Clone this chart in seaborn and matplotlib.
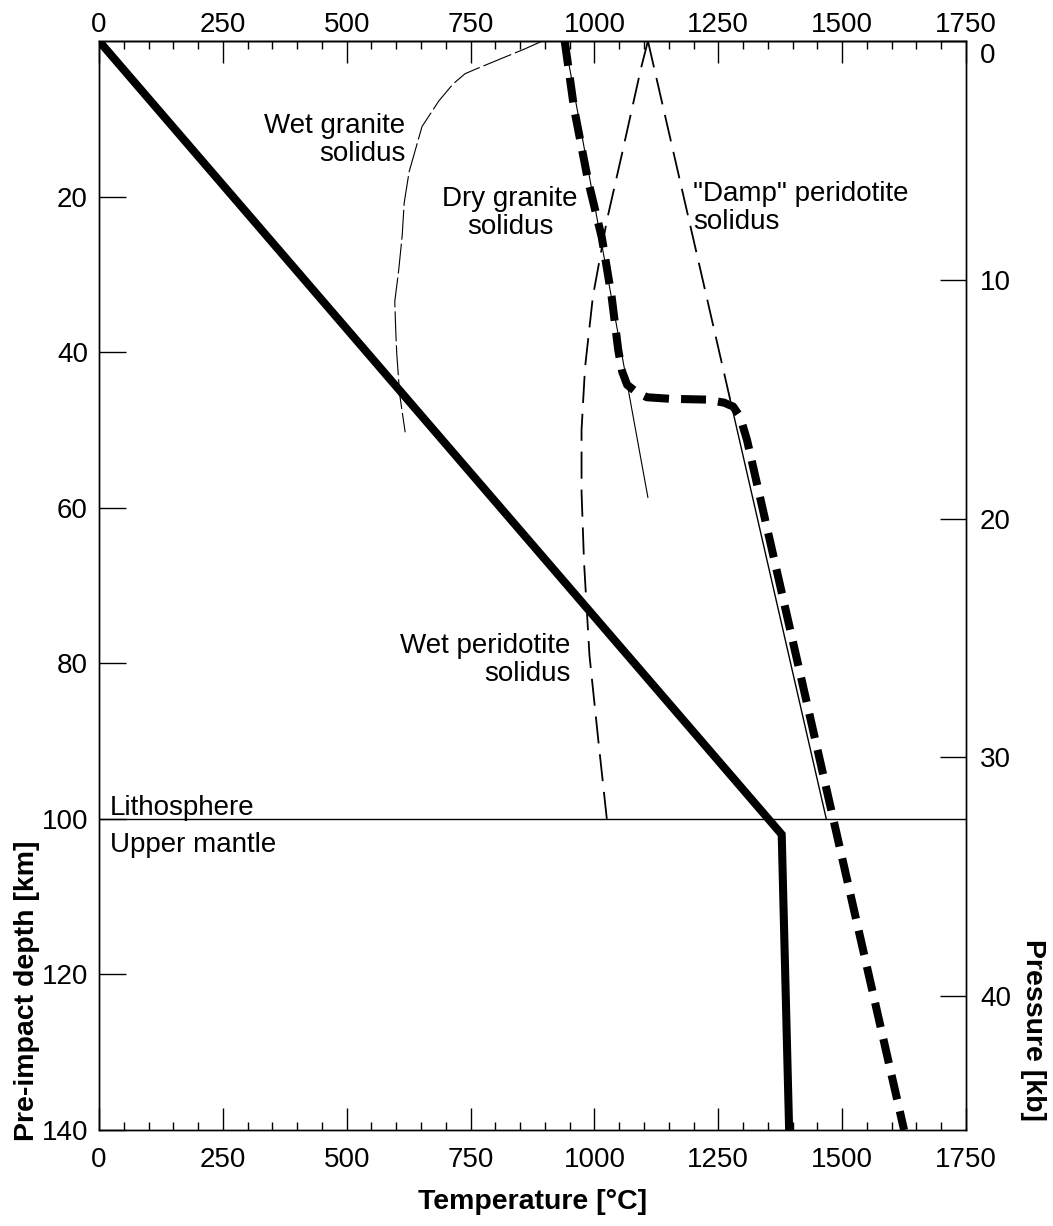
import matplotlib
matplotlib.use("Agg")
import matplotlib.pyplot as plt
from matplotlib.ticker import MultipleLocator
from matplotlib.transforms import ScaledTranslation
import seaborn as sns

# Geotherm of the pre-impact target (temperature in °C, depth in km)
geotherm_T = [0, 1378, 1393]
geotherm_z = [0, 102, 140]

# Composite solidus of the layered target (granite crust over peridotite mantle)
target_solidus_T = [940, 959, 987, 1015, 1035, 1048, 1056, 1066, 1086, 1106,
                    1153, 1227, 1262, 1280, 1294, 1308, 1625]
target_solidus_z = [0, 8.7, 17.9, 25.3, 33, 39.7, 42.5, 44.2, 45.2, 45.8,
                    46.0, 46.1, 46.5, 47.0, 48.3, 51.3, 140]

# Individual solidus curves
wet_granite_T = [895, 860, 761, 739, 715, 686, 652, 626, 616, 612, 605, 597,
                 599, 601, 607, 618]
wet_granite_z = [0, 1.0, 3.6, 4.2, 5.5, 7.7, 11, 16.8, 20.8, 25, 29.4, 33.5,
                 37.3, 40.2, 45.5, 50.3]

dry_granite_T = [940, 1108]
dry_granite_z = [0, 58.7]

wet_peridotite_T = [1108, 1094, 1056, 1025, 997, 981, 974, 974, 979, 990, 1008, 1025]
wet_peridotite_z = [0, 3.5, 14.4, 23.1, 32.8, 42, 50, 58, 67, 79, 90, 100]

damp_peridotite_T = [1108, 1274]
damp_peridotite_z = [0, 46.1]
damp_peridotite_deep_T = [1274, 1468]
damp_peridotite_deep_z = [46.1, 100]

lithosphere_base = 100          # km
km_per_kbar = 3.07              # depth-to-pressure conversion

temp_ticks = [0, 250, 500, 750, 1000, 1250, 1500, 1750]
depth_ticks = [20, 40, 60, 80, 100, 120, 140]
pressure_ticks = [0, 10, 20, 30, 40]

sns.set_theme(style="white")
plt.rcParams["font.family"] = ["Liberation Sans", "DejaVu Sans"]
plt.rcParams.update({
    "axes.linewidth": 1.0,
    "axes.edgecolor": "black",
    "text.color": "black",
    "axes.labelcolor": "black",
    "xtick.color": "black",
    "ytick.color": "black",
})

W, H = 1053, 1226
fig = plt.figure(figsize=(W / 100, H / 100), dpi=100)
x0, x1, y0, y1 = 99, 966, 41, 1130
ax = fig.add_axes([x0 / W, 1 - y1 / H, (x1 - x0) / W, (y1 - y0) / H])

line_kw = dict(color="black", sort=False, estimator=None, ax=ax, legend=False)

# thin solidus curves
sns.lineplot(x=wet_granite_T, y=wet_granite_z, lw=0.8,
             linestyle=(0, (27, 3.6)), **line_kw)
sns.lineplot(x=dry_granite_T, y=dry_granite_z, lw=0.8, **line_kw)
sns.lineplot(x=wet_peridotite_T, y=wet_peridotite_z, lw=1.3,
             linestyle=(0, (15, 6)), **line_kw)
sns.lineplot(x=damp_peridotite_T, y=damp_peridotite_z, lw=1.3,
             linestyle=(0, (15, 6)), **line_kw)
sns.lineplot(x=damp_peridotite_deep_T, y=damp_peridotite_deep_z, lw=1.0, **line_kw)

# lithosphere / upper mantle boundary
ax.axhline(lithosphere_base, color="black", lw=1.0)

# thick curves
sns.lineplot(x=target_solidus_T, y=target_solidus_z, lw=5.8,
             linestyle=(0, (3.1, 1.5)), dash_capstyle="butt", **line_kw)
sns.lineplot(x=geotherm_T, y=geotherm_z, lw=5.8,
             solid_joinstyle="miter", solid_capstyle="butt", **line_kw)

ax.set_xlim(0, 1750)
ax.set_ylim(140, 0)

# bottom temperature axis
ax.set_xticks(temp_ticks)
ax.xaxis.set_minor_locator(MultipleLocator(50))
ax.tick_params(axis="x", which="major", direction="in", length=16, width=1,
               labelsize=20, pad=12, bottom=True, top=False)
ax.tick_params(axis="x", which="minor", direction="in", length=6, width=1,
               bottom=True, top=False)

# top temperature axis
top = ax.secondary_xaxis("top")
top.set_xticks(temp_ticks)
top.xaxis.set_minor_locator(MultipleLocator(50))
top.tick_params(axis="x", which="major", direction="in", length=16, width=1,
                labelsize=20, pad=2)
top.tick_params(axis="x", which="minor", direction="in", length=6, width=1)
top.spines["top"].set_linewidth(1.0)

# depth axis
ax.set_yticks(depth_ticks)
ax.tick_params(axis="y", which="major", direction="in", length=19.5, width=1,
               labelsize=20, pad=8, left=True, right=False)

# pressure axis
ax2 = ax.twinx()
ax2.set_ylim(140 / km_per_kbar, 0)
ax2.set_yticks(pressure_ticks)
ax2.tick_params(axis="y", direction="in", length=19, width=1, labelsize=20,
                pad=10, right=True, left=False)
ax2.grid(False)
for s in ax2.spines.values():
    s.set_linewidth(1.0)
# nudge the surface-pressure label below the top temperature labels
zero_lbl = ax2.yaxis.get_major_ticks()[0].label2
zero_lbl.set_transform(zero_lbl.get_transform()
                       + ScaledTranslation(0, -12 / 100, fig.dpi_scale_trans))

ax.set_xlabel("Temperature [°C]", fontsize=20.5, fontweight="bold", va="center")
ax.xaxis.set_label_coords(0.5, -(1202 - y1) / (y1 - y0))
ax.set_ylabel("Pre-impact depth [km]", fontsize=20.5, fontweight="bold",
              va="center", ha="center")
ax.yaxis.set_label_coords(-(x0 - 27) / (x1 - x0), (y1 - 991) / (y1 - y0))
ax2.set_ylabel("Pressure [kb]", fontsize=20.5, fontweight="bold", rotation=270,
               va="center", ha="center")
ax2.yaxis.set_label_coords((1033 - x0) / (x1 - x0), (y1 - 1030) / (y1 - y0))

# curve annotations
fs = 20
ax.text(618, 12.7, "Wet granite\nsolidus", fontsize=fs, ha="right", va="center",
        multialignment="right", linespacing=1.1)
ax.text(830, 22.1, "Dry granite\nsolidus", fontsize=fs, ha="center", va="center",
        multialignment="center", linespacing=1.1)
ax.text(1199, 21.5, "\"Damp\" peridotite\nsolidus", fontsize=fs, ha="left",
        va="center", multialignment="left", linespacing=1.1)
ax.text(951, 79.6, "Wet peridotite\nsolidus", fontsize=fs, ha="right",
        va="center", multialignment="right", linespacing=1.1)
ax.text(22, 99.5, "Lithosphere", fontsize=fs, ha="left", va="baseline")
ax.text(22, 104.2, "Upper mantle", fontsize=fs, ha="left", va="baseline")

fig.savefig("out.png", dpi=100, facecolor="white")
